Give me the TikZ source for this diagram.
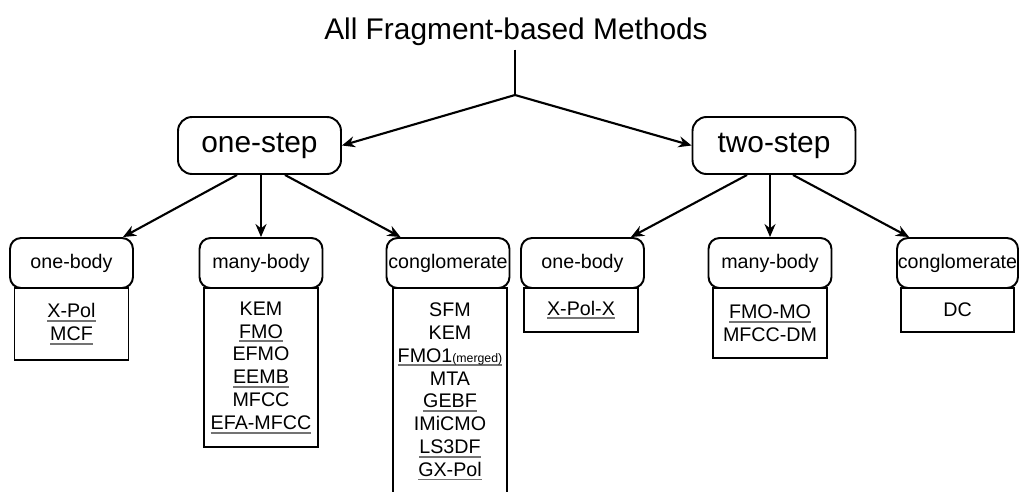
\documentclass[tikz,border=0pt]{standalone}
\usepackage{fontspec}
\setmainfont{Liberation Sans}
\usetikzlibrary{arrows.meta,backgrounds}
\newlength{\ulwd}
\newcommand{\ulgray}[1]{\settowidth{\ulwd}{#1}\rlap{\color{black!55}\rule[-2.3pt]{\ulwd}{1.1pt}}#1}

\begin{document}
\begin{tikzpicture}[x=0.02cm, y=-0.02cm,
		bigbox/.style={draw, rounded corners=2.8mm, line width=1.1pt, minimum width=32.6mm, minimum height=11.4mm, font=\fontsize{17}{20}\selectfont},
		hdr/.style={draw, fill=white, rounded corners=2.2mm, line width=1.1pt, minimum width=24.6mm, minimum height=10mm, inner sep=0pt, font=\fontsize{11.2}{13}\selectfont},
		lst/.style={draw, line width=1.1pt, minimum width=22.8mm, align=center, inner sep=0pt, font=\fontsize{11.2}{13}\selectfont},
		arr/.style={-{Stealth[length=2.6mm, width=2.2mm]}, line width=1.2pt}]
		\useasboundingbox (0,0) rectangle (1021,491);
		\node[font=\fontsize{17}{20}\selectfont, anchor=base] (all) at (516,39) {All Fragment-based Methods};
		\coordinate (jn) at (515,95);
		\node[bigbox] (os) at (259.5,145.5) {one-step};
		\node[bigbox] (ts) at (774,145.5) {two-step};
		\draw[line width=1.2pt] ([yshift=1pt]all.south -| jn) -- (jn);
		\draw[arr] (jn) -- (os.east);
		\draw[arr] (jn) -- (ts.west);
		% one-step
		\node[hdr] (ob1) at (71.5,263) {one-body};
		\node[hdr] (mb1) at (261,263) {many-body};
		\node[hdr] (cg1) at (448,263) {conglomerate};
		% two-step
		\node[hdr] (ob2) at (582.5,263) {one-body};
		\node[hdr] (mb2) at (770,263) {many-body};
		\node[hdr, minimum width=24.2mm] (cg2) at (957.5,263) {conglomerate};
		\begin{scope}[on background layer]
			\node[lst, anchor=north, minimum height=14.4mm] (ob1l) at ([yshift=1pt]ob1.south) {\ulgray{X-Pol}\\ \ulgray{MCF}};
			\node[lst, anchor=north, minimum height=31.8mm] (mb1l) at ([yshift=1pt]mb1.south) {KEM\\ \ulgray{FMO}\\ EFMO\\ \ulgray{EEMB}\\ MFCC\\ \ulgray{EFA-MFCC}};
			\node[lst, anchor=north, minimum height=41.4mm] (cg1l) at ([yshift=1pt,xshift=0.4mm]cg1.south) {SFM\\ KEM\\ \ulgray{FMO1{\fontsize{7}{8}\selectfont(merged)}}\\ MTA\\ \ulgray{GEBF}\\ IMiCMO\\ \ulgray{LS3DF}\\ \ulgray{GX-Pol}};
			\node[lst, anchor=north, minimum height=8.8mm] (ob2l) at ([yshift=1pt,xshift=-0.3mm]ob2.south) {\ulgray{X-Pol-X}};
			\node[lst, anchor=north, minimum height=14mm] (mb2l) at ([yshift=1pt]mb2.south) {\ulgray{FMO-MO}\\ MFCC-DM};
			\node[lst, anchor=north, minimum height=8.8mm, minimum width=22.6mm] (cg2l) at ([yshift=1pt]cg2.south) {DC};
		\end{scope}
		\draw[arr] ([xshift=-4.5mm]os.south) -- ([xshift=-2.2mm]ob1.north east);
		\draw[arr] (os.south -| mb1.north) -- (mb1.north);
		\draw[arr] ([xshift=5.1mm]os.south) -- ([xshift=3mm]cg1.north west);
		\draw[arr] ([xshift=-5.4mm]ts.south) -- ([xshift=-2.8mm]ob2.north east);
		\draw[arr] (ts.south -| mb2.north) -- (mb2.north);
		\draw[arr] ([xshift=3.8mm]ts.south) -- ([xshift=2.6mm]cg2.north west);
	\end{tikzpicture}
\end{document}
